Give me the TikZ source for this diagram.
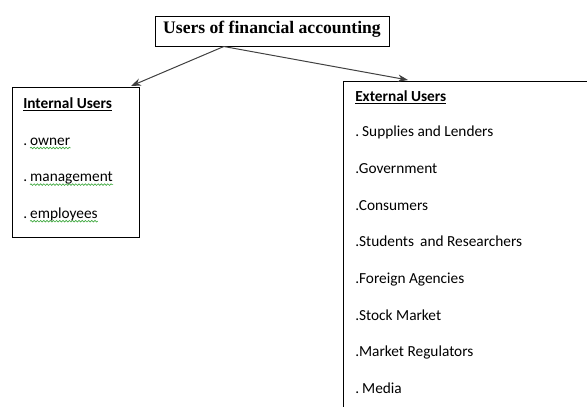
\documentclass[tikz,border=0pt]{standalone}
\usepackage{fontspec}
\setmainfont{Carlito}
\newfontfamily\titlefont{Liberation Serif}
\usetikzlibrary{arrows.meta,calc,decorations.pathmorphing}
\tikzset{
  item/.style={anchor=base west, inner sep=0pt, font=\fontsize{11.5}{13}\selectfont},
  head/.style={item, font=\fontsize{11.5}{13}\selectfont\bfseries},
  frame/.style={draw=black, line width=0.75pt, inner sep=0pt},
  titlebox/.style={frame, minimum width=175.5pt, minimum height=22.5pt,
    text height=6pt, text depth=2.6pt, font=\titlefont\bfseries\fontsize{13.2}{16}\selectfont},
  link/.style={draw=black!75, line width=0.75pt, -{Stealth[length=7.5pt,width=5.5pt]}},
  squiggle/.style={draw=green!55!black!75, line width=0.5pt, decorate,
    decoration={snake, amplitude=0.6pt, segment length=2.4pt}}
}
\newcommand\dotsep{\hspace{0.2em}}

\begin{document}
\begin{tikzpicture}[x=0.75pt,y=-0.75pt]
		%%%%% START %%%%%
		\useasboundingbox (0,0) rectangle (587,407);
		\clip (0,0) rectangle (587,407);
		
		\node[titlebox] (title) at (272,31) {Users of financial accounting};
		\coordinate (fork) at ($(title.south west)!0.295!(title.south east)$);
		
		\node[frame, anchor=north west, minimum width=95.25pt, minimum height=112.5pt] (internal) at (12,87) {};
		\node[frame, anchor=north west, minimum width=195pt, minimum height=255pt] (external) at (343,81) {};
		
		\draw[link] (fork) -- ($(internal.north east)+(-9,-1)$);
		\draw[link] (fork) -- ($(external.north west)+(65,-1)$);
		
		% internal users
		\node[head] (inthead) at (23,108.3) {\underline{Internal Users}};
		\foreach \word [count=\i] in {owner,management,employees}{
			\node[item] (int\i) at (23,{145+36.6*(\i-1)}) {.\dotsep\word};
			\draw[squiggle] ($(int\i.base west)+(7,3)$) -- ($(int\i.base east)+(0,3)$);
		}
		
		% external users
		\node[head] (exthead) at (355,101.7) {\underline{External Users}};
		\foreach \txt [count=\i] in {.\dotsep Supplies and Lenders,.Government,.Consumers,.Students\hspace{0.4em}and Researchers,.Foreign Agencies,.Stock Market,.Market Regulators,.\dotsep Media}{
			\node[item] (ext\i) at (355,{137+36.6*(\i-1)}) {\txt};
		}
		
		%%%%% END %%%%%
\end{tikzpicture}
\end{document}
